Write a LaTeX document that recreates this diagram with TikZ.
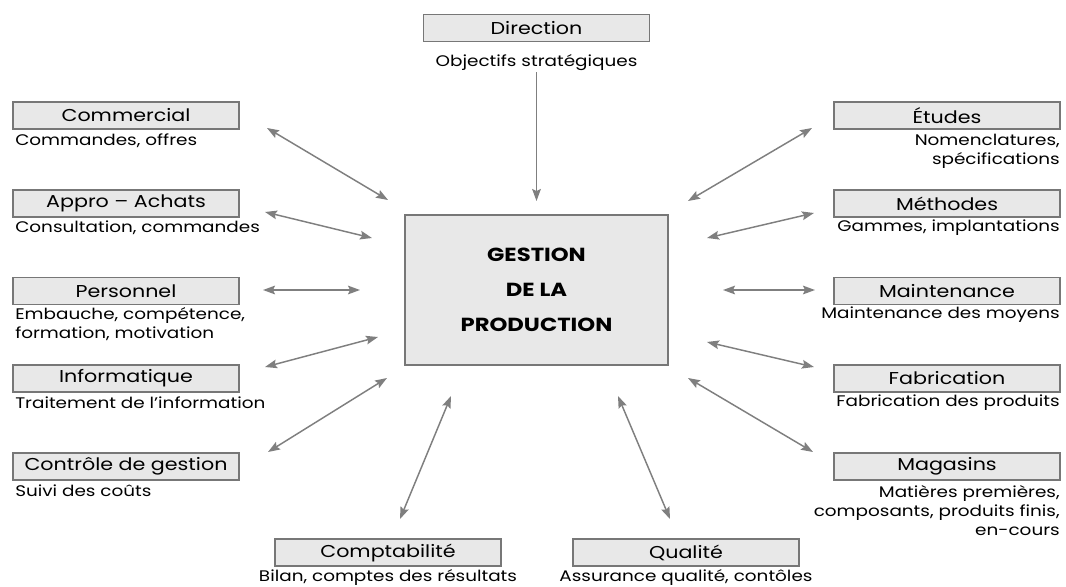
\documentclass[tikz,border=0pt]{standalone}
\usepackage{fontspec}
\setmainfont[FakeStretch=1.2]{Poppins}
\usetikzlibrary{arrows.meta}
\definecolor{boxfill}{HTML}{E8E8E8}
\definecolor{boxline}{HTML}{777777}
\definecolor{arrowgray}{HTML}{7F7F7F}
\tikzset{
  dept/.style={draw=boxline, line width=1.1pt, fill=boxfill, rectangle,
    minimum width=169.5pt, minimum height=20.25pt, inner sep=0pt,
    font=\fontsize{12.9}{14}\selectfont},
  subl/.style={anchor=west, align=left, inner sep=0pt,
    font=\fontsize{11.5}{14.25}\selectfont},
  subr/.style={anchor=east, align=right, inner sep=0pt,
    font=\fontsize{11.5}{14.25}\selectfont},
  subc/.style={anchor=center, align=center, inner sep=0pt,
    font=\fontsize{11.5}{14.25}\selectfont},
  core/.style={draw=boxline, line width=1.1pt, fill=boxfill, rectangle,
    minimum width=197.25pt, minimum height=112.5pt, inner sep=0pt,
    align=center, font=\fontsize{14.2}{26.25}\selectfont\bfseries},
  link/.style={draw=arrowgray, line width=1.1pt,
    {Stealth[length=9pt,width=6.5pt,inset=1.5pt]}-{Stealth[length=9pt,width=6.5pt,inset=1.5pt]}},
  feed/.style={draw=arrowgray, line width=1.1pt,
    -{Stealth[length=9pt,width=6.5pt,inset=1.5pt]}}
}
\begin{document}
\begin{tikzpicture}[x=0.75pt, y=-0.75pt]
\useasboundingbox (0,0) rectangle (1066,586);

% central box
\node[core] (gp) at (536.5,290) {GESTION\\DE LA\\PRODUCTION};

% top
\node[dept] (dir) at (536.5,28) {Direction};
\node[subc] (dirs) at (536.5,63) {Objectifs stratégiques};

% left column
\node[dept] (com) at (126,115.5) {Commercial};
\node[subl] (coms) at (15,141) {Commandes, offres};
\node[dept] (app) at (126,203.5) {Appro -- Achats};
\node[subl] (apps) at (15,228) {Consultation, commandes};
\node[dept] (per) at (126,291) {Personnel};
\node[subl] (pers) at (15,324.5) {Embauche, compétence,\\formation, motivation};
\node[dept] (inf) at (126,378.5) {Informatique};
\node[subl] (infs) at (15,403) {Traitement de l'information};
\node[dept] (cdg) at (126,466.5) {Contrôle de gestion};
\node[subl] (cdgs) at (15,491) {Suivi des coûts};

% right column
\node[dept] (etu) at (947,115.5) {Études};
\node[subr] (etus) at (1060,151.5) {Nomenclatures,\\spécifications};
\node[dept] (met) at (947,203.5) {Méthodes};
\node[subr] (mets) at (1060,228) {Gammes, implantations};
\node[dept] (mai) at (947,291) {Maintenance};
\node[subr] (mais) at (1060,315) {Maintenance des moyens};
\node[dept] (fab) at (947,378.5) {Fabrication};
\node[subr] (fabs) at (1060,403) {Fabrication des produits};
\node[dept] (mag) at (947,466.5) {Magasins};
\node[subr] (mags) at (1060,510.5) {Matières premières,\\composants, produits finis,\\en-cours};

% bottom row
\node[dept] (cpt) at (388,552.5) {Comptabilité};
\node[subc] (cpts) at (388,577) {Bilan, comptes des résultats};
\node[dept] (qua) at (686,552.5) {Qualité};
\node[subc] (quas) at (686,577) {Assurance qualité, contôles};

% arrow end points
\coordinate (d1) at (536.5,72);   \coordinate (d2) at (536.5,201);
\coordinate (a1) at (267,128);    \coordinate (a2) at (388,200);
\coordinate (b1) at (265,212);    \coordinate (b2) at (372,238);
\coordinate (c1) at (263,290);    \coordinate (c2) at (360,290);
\coordinate (e1) at (265,367);    \coordinate (e2) at (378,337);
\coordinate (f1) at (268,452);    \coordinate (f2) at (387,378);
\coordinate (g1) at (400,519);    \coordinate (g2) at (451,396);
\coordinate (h1) at (670,519);    \coordinate (h2) at (618,396);
\coordinate (i1) at (688,201);    \coordinate (i2) at (812,128);
\coordinate (j1) at (707,238);    \coordinate (j2) at (814,213);
\coordinate (k1) at (723,290);    \coordinate (k2) at (815,290);
\coordinate (l1) at (707,342);    \coordinate (l2) at (814,367);
\coordinate (m1) at (688,378);    \coordinate (m2) at (813,452);

\draw[feed] (d1) -- (d2);
\draw[link] (a1) -- (a2);
\draw[link] (b1) -- (b2);
\draw[link] (c1) -- (c2);
\draw[link] (e1) -- (e2);
\draw[link] (f1) -- (f2);
\draw[link] (g1) -- (g2);
\draw[link] (h1) -- (h2);
\draw[link] (i1) -- (i2);
\draw[link] (j1) -- (j2);
\draw[link] (k1) -- (k2);
\draw[link] (l1) -- (l2);
\draw[link] (m1) -- (m2);
\end{tikzpicture}
\end{document}
